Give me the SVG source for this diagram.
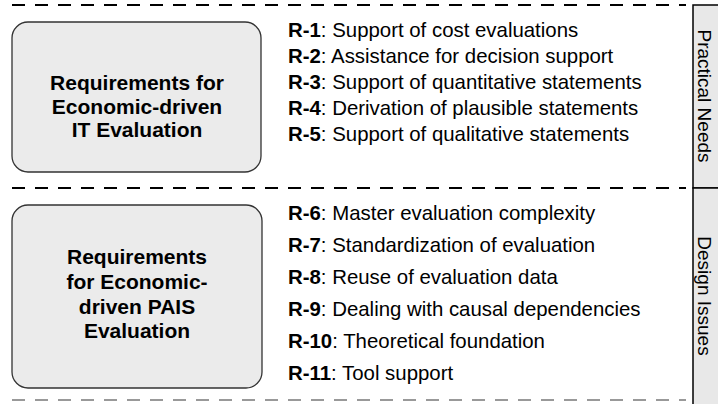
<svg xmlns="http://www.w3.org/2000/svg" width="718" height="404" viewBox="0 0 718 404">
<style>
.dash{stroke-width:2;stroke-dasharray:13 10;fill:none}
.box{fill:#ebebeb;stroke:#333;stroke-width:1.3}
.title{font-family:"Liberation Sans",Arial,sans-serif;font-weight:bold;font-size:21px;text-anchor:middle;fill:#000}
.req{font-family:"Liberation Sans",Arial,sans-serif;font-size:20.4px;fill:#000}
.req tspan.b{font-weight:bold}
.side{font-family:"Liberation Sans",Arial,sans-serif;font-size:19px;text-anchor:middle;fill:#000}
</style>
<rect width="718" height="404" fill="#fff"/>
<g id="separators">
<line class="dash" x1="12" y1="5" x2="686" y2="5" stroke="#000"/>
<line class="dash" x1="12" y1="188" x2="686" y2="188" stroke="#000"/>
<line class="dash" x1="12" y1="400" x2="686" y2="400" stroke="#999"/>
</g>
<g id="side-tab">
<rect x="693" y="5" width="30" height="183" fill="#e8e8e8" stroke="#000" stroke-width="1.5"/>
<rect x="693" y="188" width="30" height="230" fill="#e8e8e8" stroke="#000" stroke-width="1.5"/>
<text class="side" transform="translate(698,96) rotate(90)">Practical Needs</text>
<text class="side" transform="translate(698,296) rotate(90)">Design Issues</text>
</g>
<g id="node-it">
<rect class="box" x="12" y="22" width="249" height="150" rx="16"/>
<text class="title" x="137" y="90">Requirements for</text>
<text class="title" x="137" y="113.5">Economic-driven</text>
<text class="title" x="137" y="137">IT Evaluation</text>
</g>
<g id="node-pais">
<rect class="box" x="12" y="205" width="250" height="183" rx="16"/>
<text class="title" x="137" y="264">Requirements</text>
<text class="title" x="137" y="289">for Economic-</text>
<text class="title" x="137" y="313.5">driven PAIS</text>
<text class="title" x="137" y="338">Evaluation</text>
</g>
<g id="list-practical">
<text class="req" x="288" y="37"><tspan class="b">R-1</tspan>: Support of cost evaluations</text>
<text class="req" x="288" y="63"><tspan class="b">R-2</tspan>: Assistance for decision support</text>
<text class="req" x="288" y="89"><tspan class="b">R-3</tspan>: Support of quantitative statements</text>
<text class="req" x="288" y="115"><tspan class="b">R-4</tspan>: Derivation of plausible statements</text>
<text class="req" x="288" y="141"><tspan class="b">R-5</tspan>: Support of qualitative statements</text>
</g>
<g id="list-design">
<text class="req" x="288" y="220"><tspan class="b">R-6</tspan>: Master evaluation complexity</text>
<text class="req" x="288" y="252"><tspan class="b">R-7</tspan>: Standardization of evaluation</text>
<text class="req" x="288" y="284"><tspan class="b">R-8</tspan>: Reuse of evaluation data</text>
<text class="req" x="288" y="316"><tspan class="b">R-9</tspan>: Dealing with causal dependencies</text>
<text class="req" x="288" y="348"><tspan class="b">R-10</tspan>: Theoretical foundation</text>
<text class="req" x="288" y="380"><tspan class="b">R-11</tspan>: Tool support</text>
</g>
</svg>
